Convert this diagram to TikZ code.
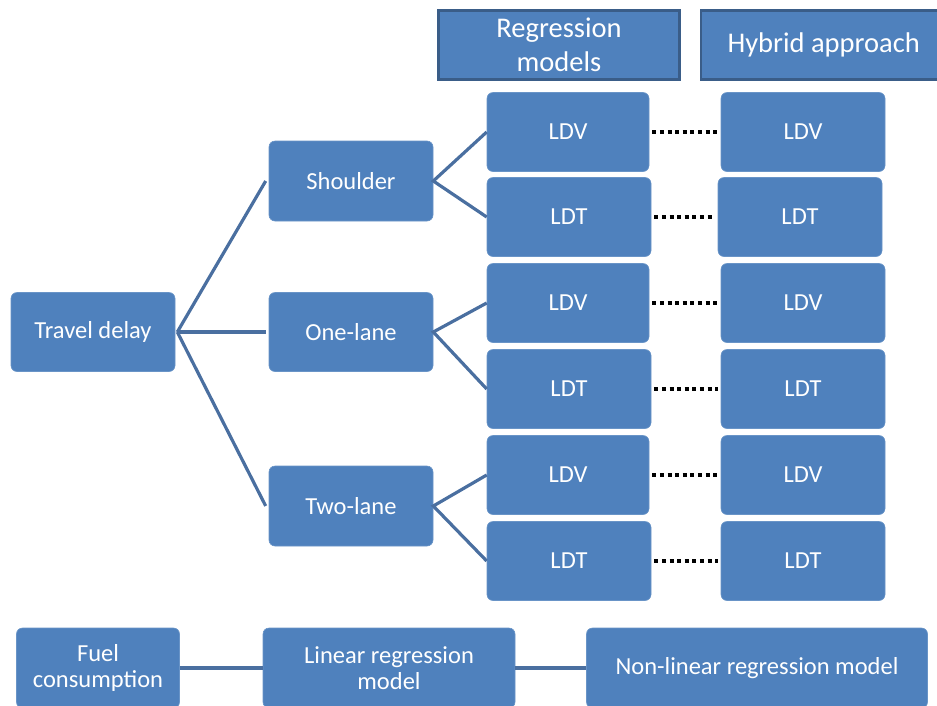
\documentclass[tikz,border=0pt]{standalone}
\usepackage{fontspec}
\setmainfont{Carlito}
\begin{document}
\begin{tikzpicture}[x=1pt,y=-1pt,
  box/.style={draw=boxfill!85!white, line width=0.6pt, fill=boxfill, rounded corners=6pt, text=white, align=center, inner sep=0pt, font=\fontsize{24.5}{25.5}\selectfont},
  hdr/.style={draw=hdrline, line width=2.4pt, fill=boxfill, text=white, align=center, inner sep=0pt, font=\fontsize{28.5}{34}\selectfont},
  link/.style={draw=linkcol, line width=3.2pt},
  dots/.style={draw=black, line width=4pt, dash pattern=on 4pt off 3.6pt}]
\definecolor{boxfill}{HTML}{4F81BD}
\definecolor{hdrline}{HTML}{3A5D88}
\definecolor{linkcol}{HTML}{4A6FA0}
\useasboundingbox (0,0) rectangle (937,705);
% headers
\node[hdr, minimum width=241pt, minimum height=69pt] (reg) at (559,45) {Regression\\models};
\node[hdr, minimum width=240pt, minimum height=69pt, anchor=west] (hyb) at (700,45) {\hspace*{5pt}Hybrid approach};
% tree
\node[box, minimum width=164pt, minimum height=79pt] (td) at (93,332) {Travel delay};
\node[box, minimum width=164pt, minimum height=80pt] (sh) at (351,181) {Shoulder};
\node[box, minimum width=164pt, minimum height=79pt] (ol) at (351,332) {One-lane};
\node[box, minimum width=164pt, minimum height=80pt] (tl) at (351,506) {Two-lane};
% left column
\node[box, minimum width=162pt, minimum height=79pt] (a1) at (568,132) {LDV};
\node[box, minimum width=164pt, minimum height=79pt] (a2) at (569,217) {LDT};
\node[box, minimum width=162pt, minimum height=79pt] (a3) at (568,303) {LDV};
\node[box, minimum width=164pt, minimum height=79pt] (a4) at (569,389) {LDT};
\node[box, minimum width=162pt, minimum height=79pt] (a5) at (568,475) {LDV};
\node[box, minimum width=164pt, minimum height=79pt] (a6) at (569,561) {LDT};
% right column
\node[box, minimum width=164pt, minimum height=79pt] (b1) at (803,132) {LDV};
\node[box, minimum width=164pt, minimum height=79pt] (b2) at (800,217) {LDT};
\node[box, minimum width=164pt, minimum height=79pt] (b3) at (803,303) {LDV};
\node[box, minimum width=164pt, minimum height=79pt] (b4) at (803,389) {LDT};
\node[box, minimum width=164pt, minimum height=79pt] (b5) at (803,475) {LDV};
\node[box, minimum width=164pt, minimum height=79pt] (b6) at (803,561) {LDT};
% bottom row
\node[box, minimum width=163pt, minimum height=80pt] (fc) at (98,668) {Fuel\\consumption};
\node[box, minimum width=252pt, minimum height=80pt] (lr) at (389,668) {Linear regression\\model};
\node[box, minimum width=341pt, minimum height=80pt] (nl) at (757,668) {Non-linear regression model};
% connectors
\coordinate (tdr) at ([xshift=2pt]td.east);
\draw[link] (tdr) -- ([xshift=-3pt]sh.west);
\draw[link] (tdr) -- ([xshift=-3pt]ol.west);
\draw[link] (tdr) -- ([xshift=-3pt]tl.west);
\draw[link] (a1.west) -- (sh.east) -- (a2.west);
\draw[link] (a3.west) -- (ol.east) -- (a4.west);
\draw[link] (a5.west) -- (tl.east) -- (a6.west);
\draw[link] (fc.east) -- (lr.west);
\draw[link] (lr.east) -- (nl.west);
% dotted
\draw[dots] ([xshift=3pt]a1.east) -- ([xshift=-3pt]b1.west);
\draw[dots] ([xshift=3pt]a2.east) -- ([xshift=-3pt]b2.west);
\draw[dots] ([xshift=3pt]a3.east) -- ([xshift=-3pt]b3.west);
\draw[dots] ([xshift=3pt]a4.east) -- ([xshift=-3pt]b4.west);
\draw[dots] ([xshift=3pt]a5.east) -- ([xshift=-3pt]b5.west);
\draw[dots] ([xshift=3pt]a6.east) -- ([xshift=-3pt]b6.west);
\end{tikzpicture}
\end{document}
